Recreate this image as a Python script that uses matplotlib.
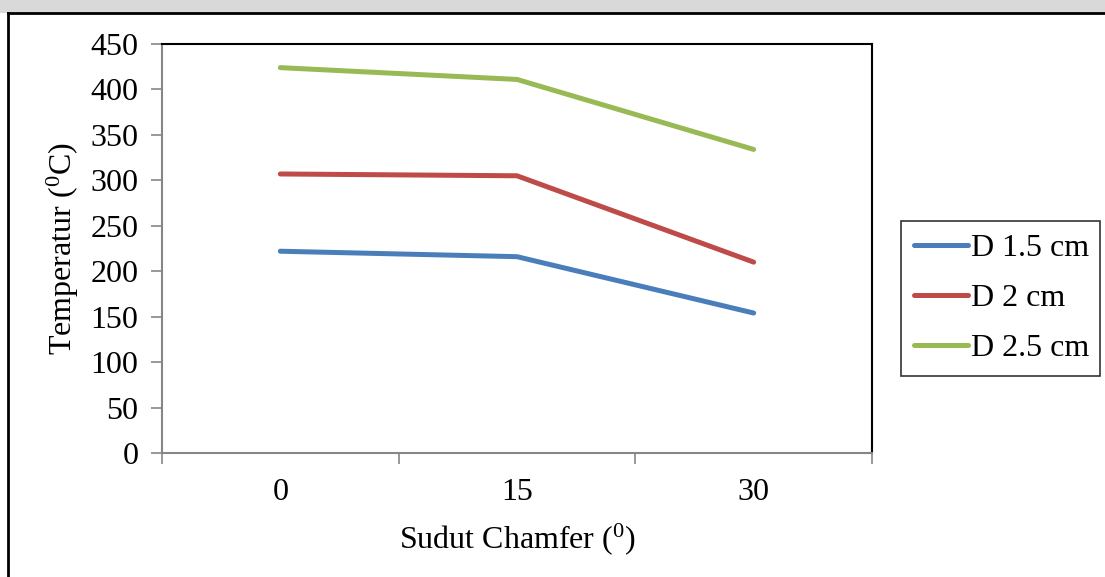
import matplotlib.pyplot as plt
from matplotlib.patches import Rectangle

plt.rcParams['font.family'] = 'Liberation Serif'
plt.rcParams['mathtext.fontset'] = 'custom'
plt.rcParams['mathtext.rm'] = 'Liberation Serif'

angles = ['0', '15', '30']
d15 = [222, 216, 154]
d20 = [307, 305, 210]
d25 = [424, 411, 334]
labels = ['D 1.5 cm', 'D 2 cm', 'D 2.5 cm']
colors = ['#4A7EBB', '#BE4B48', '#98B954']

fs = 23

fig = plt.figure(figsize=(11.05, 5.77), dpi=100)

# gray band and outer frame of the pasted chart
fig.patches.append(Rectangle((0, 1 - 13 / 577), 1, 13 / 577, transform=fig.transFigure,
                             facecolor='#d9d9d9', edgecolor='none', zorder=0))
fig.lines.append(plt.Line2D([8 / 1105, 8 / 1105], [0, 1 - 13 / 577], transform=fig.transFigure,
                            color='black', lw=2))
fig.lines.append(plt.Line2D([8 / 1105, 1], [1 - 13 / 577, 1 - 13 / 577], transform=fig.transFigure,
                            color='black', lw=2))

ax = fig.add_axes([162 / 1105, 1 - 453 / 577, 710 / 1105, 409 / 577])
x = range(len(angles))
for vals, lab, c in zip([d15, d20, d25], labels, colors):
    ax.plot(x, vals, color=c, lw=3.6, label=lab, solid_capstyle='round')

ax.set_xlim(-0.5, 2.5)
ax.set_ylim(0, 450)
ax.set_yticks(range(0, 451, 50))
ax.set_xticks([-0.5, 0.5, 1.5, 2.5])
ax.set_xticklabels([])
ax.set_xticks(list(x), minor=True)
ax.set_xticklabels(angles, minor=True)
ax.tick_params(axis='x', which='minor', length=0, pad=18, labelsize=fs)
ax.tick_params(axis='x', which='major', length=8, width=1.2, color='#868686')
ax.tick_params(axis='y', length=8, width=1.2, color='#868686', labelsize=fs, pad=9)

for s in ['left', 'bottom']:
    ax.spines[s].set_color('#868686')
    ax.spines[s].set_linewidth(1.5)
for s in ['top', 'right']:
    ax.spines[s].set_color('black')
    ax.spines[s].set_linewidth(1.5)

ax.set_ylabel(r'Temperatur ($\mathregular{^0}$C)', fontsize=fs, labelpad=7)
ax.set_xlabel(r'Sudut Chamfer ($\mathregular{^0}$)', fontsize=fs, labelpad=10)

leg = ax.legend(loc='center left', bbox_to_anchor=(901 / 1105, 1 - 375 / 577, 199 / 1105, 153 / 577),
                bbox_transform=fig.transFigure, mode='expand', fontsize=fs, frameon=True,
                fancybox=False, edgecolor='black', handlelength=1.7, handletextpad=0.1,
                labelspacing=0.65, borderaxespad=0, borderpad=0.4)
leg.get_frame().set_linewidth(1.2)

fig.savefig('out.png', dpi=100)
